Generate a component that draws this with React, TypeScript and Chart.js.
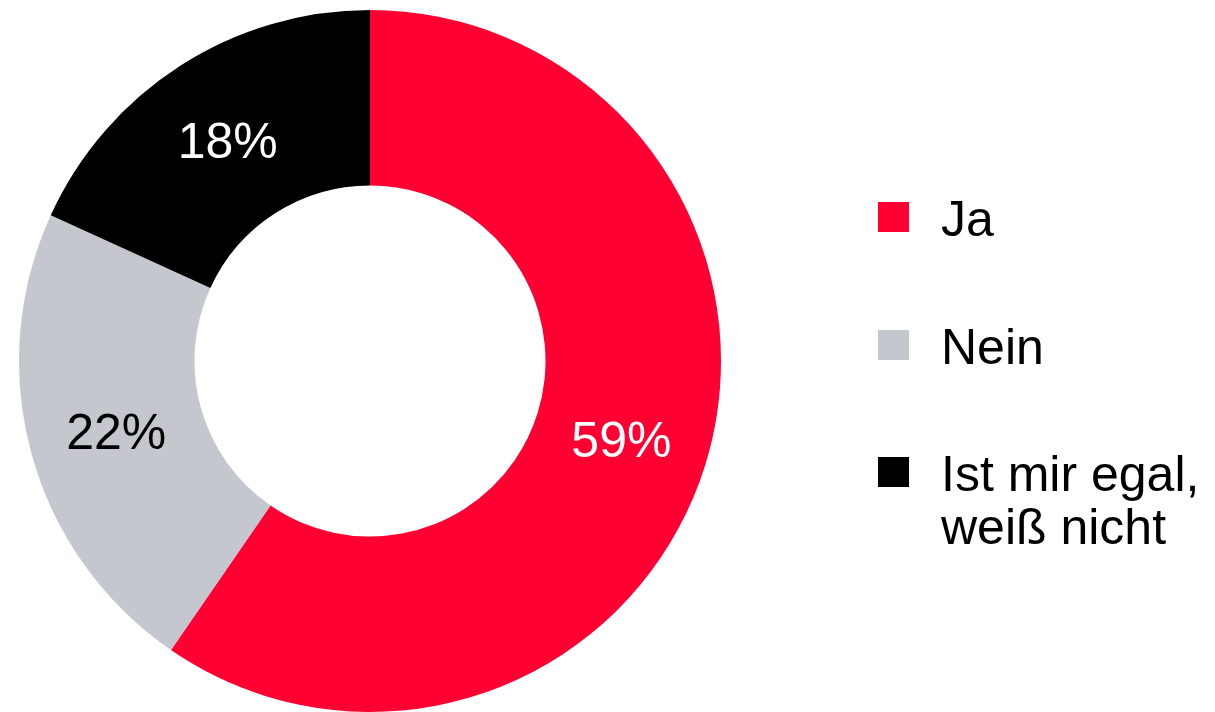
import React, { useEffect, useRef } from "react";
import { Chart, registerables } from "chart.js";

Chart.register(...registerables);

const categories: string[][] = [["Ja"], ["Nein"], ["Ist mir egal,", "weiß nicht"]];
const values: number[] = [59, 22, 18];
const valueLabels: string[] = ["59%", "22%", "18%"];
const colors: string[] = ["#FF0033", "#C4C8CE", "#000000"];
const labelColors: string[] = ["#FFFFFF", "#000000", "#FFFFFF"];

const FONT = '"Liberation Sans", Arial, Helvetica, sans-serif';

const sliceLabelPlugin = {
  id: "sliceLabels",
  afterDatasetsDraw(chart: any) {
    const ctx = chart.ctx;
    const meta = chart.getDatasetMeta(0);
    ctx.save();
    ctx.font = `50px ${FONT}`;
    ctx.textAlign = "center";
    ctx.textBaseline = "alphabetic";
    meta.data.forEach((arc: any, i: number) => {
      const { x, y, startAngle, endAngle, innerRadius, outerRadius } = arc.getProps(
        ["x", "y", "startAngle", "endAngle", "innerRadius", "outerRadius"],
        true
      );
      const mid = (startAngle + endAngle) / 2;
      const r = (innerRadius + outerRadius) / 2;
      const px = x + Math.cos(mid) * r;
      const py = y + Math.sin(mid) * r;
      ctx.fillStyle = labelColors[i];
      ctx.fillText(valueLabels[i], px, py + 18);
    });
    ctx.restore();
  },
};

const legendPlugin = {
  id: "sideLegend",
  afterDraw(chart: any) {
    const ctx = chart.ctx;
    ctx.save();
    ctx.font = `50px ${FONT}`;
    ctx.textAlign = "left";
    ctx.textBaseline = "alphabetic";
    const boxX = 878;
    const textX = 941;
    const rowTop = [202, 330, 457];
    categories.forEach((lines, i) => {
      ctx.fillStyle = colors[i];
      ctx.fillRect(boxX, rowTop[i], 31, 30);
      ctx.fillStyle = "#000000";
      lines.forEach((line, j) => {
        ctx.fillText(line, textX, rowTop[i] + 34 + j * 53);
      });
    });
    ctx.restore();
  },
};

export default function App() {
  const ref = useRef<HTMLCanvasElement | null>(null);
  useEffect(() => {
    document.body.style.margin = "0";
    const canvas = ref.current;
    if (!canvas) return;
    const chart = new Chart(canvas, {
      type: "doughnut",
      data: {
        labels: categories.map((c) => c.join(" ")),
        datasets: [
          {
            data: values,
            backgroundColor: colors,
            borderWidth: 0,
            hoverOffset: 0,
          },
        ],
      },
      options: {
        responsive: false,
        animation: false,
        cutout: "50%",
        layout: { padding: { left: 19, top: 10, right: 494, bottom: 0 } },
        plugins: {
          legend: { display: false },
          tooltip: { enabled: false },
        },
        events: [],
      },
      plugins: [sliceLabelPlugin, legendPlugin],
    });
    return () => chart.destroy();
  }, []);
  return (
    <div style={{ width: 1215, height: 712, background: "#fff" }}>
      <canvas ref={ref} width={1215} height={712} style={{ display: "block" }} />
    </div>
  );
}
